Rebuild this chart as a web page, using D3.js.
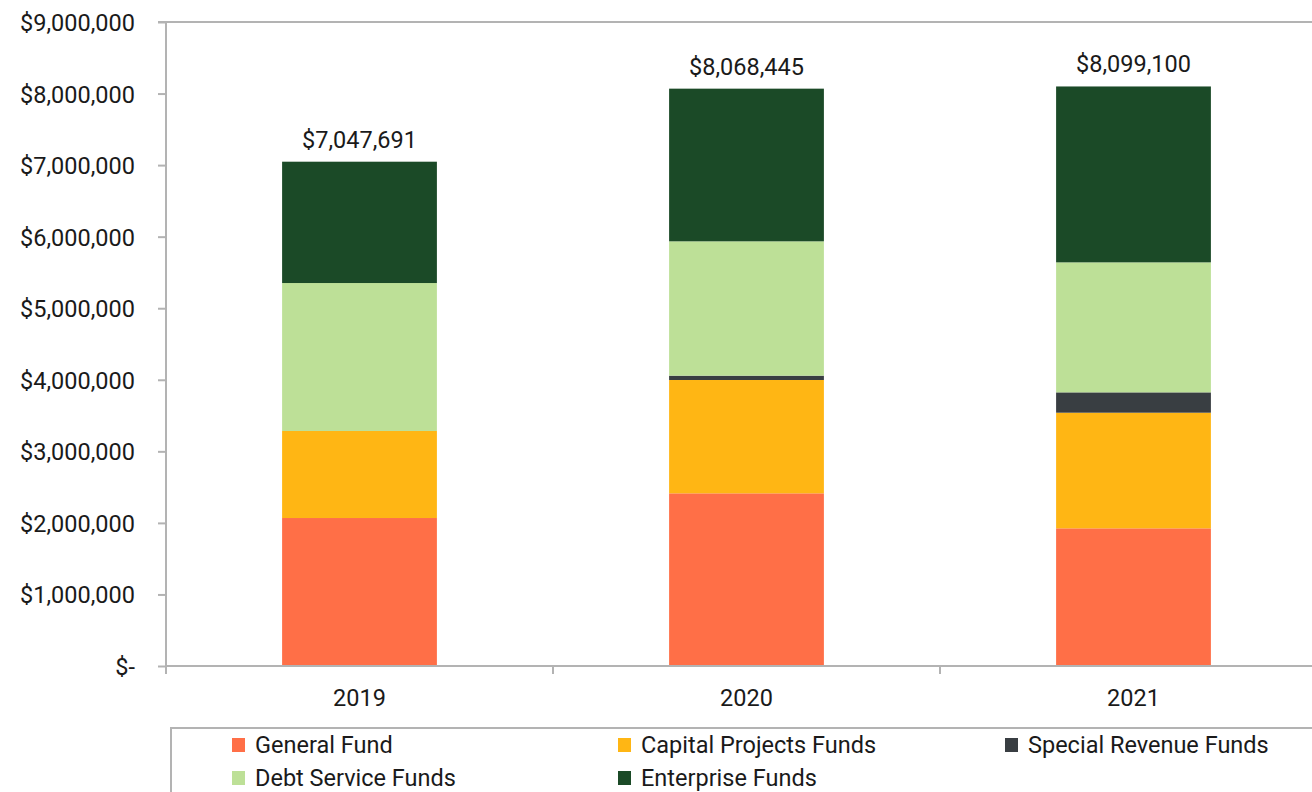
<!DOCTYPE html>
<html><head><meta charset="utf-8">
<script src="https://cdn.jsdelivr.net/npm/d3@7"></script>
<style>
html,body{margin:0;padding:0;background:#fff;}
text{font-family:Roboto,"Noto Sans",sans-serif;fill:#1a1a1a;}
</style></head>
<body><svg id="c" width="1312" height="792"></svg>
<script>
const years = ["2019","2020","2021"];
const seriesNames = ["General Fund","Capital Projects Funds","Special Revenue Funds","Debt Service Funds","Enterprise Funds"];
const generalFund = [2068000, 2413000, 1924000];
const capitalProjects = [1216000, 1584000, 1616000];
const specialRevenue = [0, 60000, 284000];
const debtService = [2068000, 1878000, 1817000];
const enterprise = [1695691, 2133445, 2458100];
const colors = ["#FF6F47","#FFB614","#393E42","#BDE097","#1B4A27"];
const yTicks = [0,1000000,2000000,3000000,4000000,5000000,6000000,7000000,8000000,9000000];

const seriesVals = [generalFund, capitalProjects, specialRevenue, debtService, enterprise];
const rows = years.map((y,i)=>{const r={year:y}; seriesNames.forEach((s,k)=>r[s]=seriesVals[k][i]); return r;});
const stack = d3.stack().keys(seriesNames)(rows);

const svg = d3.select("#c");
const L=166, T=22, B=666, R=1327;
const FS="23.5px";
const x = d3.scaleBand().domain(years).range([L,R]).paddingInner(0.6).paddingOuter(0.3);
const y = d3.scaleLinear().domain([0,9000000]).range([B,T]);
const grey="#b3b3b3";

// bars
stack.forEach((layer,k)=>{
  svg.append("g").selectAll("rect").data(layer).join("rect")
    .attr("x",d=>x(d.data.year)).attr("width",x.bandwidth())
    .attr("y",d=>y(d[1])).attr("height",d=>y(d[0])-y(d[1]))
    .attr("fill",colors[k]);
});

// top border
svg.append("line").attr("x1",L).attr("x2",1312).attr("y1",T).attr("y2",T).attr("stroke",grey).attr("stroke-width",2);

// y axis
const fmt = d3.format(",");
const yAxis = d3.axisLeft(y).tickValues(yTicks).tickSize(8).tickPadding(23)
  .tickFormat(d=> d===0 ? "$-" : "$"+fmt(d));
const gy = svg.append("g").attr("transform",`translate(${L},0)`).call(yAxis);
gy.select(".domain").attr("stroke",grey).attr("stroke-width",2).attr("d",`M-8,${T}H0V${B+7}`);
gy.selectAll(".tick line").attr("stroke",grey).attr("stroke-width",2);
gy.selectAll(".tick text").style("font-size",FS).attr("fill","#1a1a1a").attr("dy","0.36em");

// x axis
const gx = svg.append("g").attr("transform",`translate(0,${B})`).call(d3.axisBottom(x).tickSize(0).tickPadding(23));
gx.select(".domain").remove();
gx.append("line").attr("x1",L).attr("x2",1312).attr("stroke",grey).attr("stroke-width",2);
const bounds = [0,1,2,3].map(i=>L+i*x.step());
gx.selectAll(".bnd").data(bounds).join("line").attr("x1",d=>d).attr("x2",d=>d).attr("y1",0).attr("y2",8).attr("stroke",grey).attr("stroke-width",2);
gx.selectAll(".tick text").style("font-size",FS).attr("fill","#1a1a1a");

// totals
svg.append("g").selectAll("text").data(rows).join("text")
  .attr("x",d=>x(d.year)+x.bandwidth()/2)
  .attr("y",(d,i)=>y(stack[stack.length-1][i][1])-14)
  .attr("text-anchor","middle").style("font-size",FS)
  .text((d,i)=>"$"+fmt(stack[stack.length-1][i][1]));

// legend
svg.append("rect").attr("x",171).attr("y",728).attr("width",1200).attr("height",120)
  .attr("fill","none").attr("stroke",grey).attr("stroke-width",2);
const legCols=[232,618,1005], legRows=[745,778];
const lg = svg.append("g").selectAll("g").data(seriesNames).join("g")
  .attr("transform",(d,i)=>`translate(${legCols[i%3]},${legRows[Math.floor(i/3)]})`);
lg.append("rect").attr("x",0).attr("y",-7).attr("width",13).attr("height",14).attr("fill",(d,i)=>colors[i]);
lg.append("text").attr("x",23).attr("dy","0.36em").style("font-size",FS).text(d=>d);
</script></body></html>
